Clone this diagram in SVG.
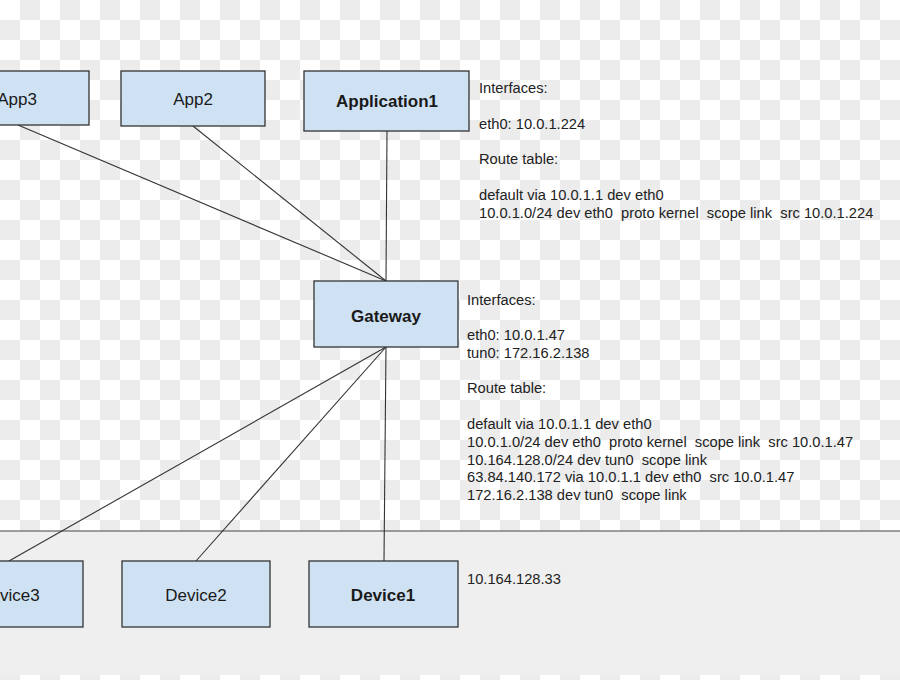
<svg xmlns="http://www.w3.org/2000/svg" xmlns:xlink="http://www.w3.org/1999/xlink" width="900" height="680" viewBox="0 0 900 680">
<defs>
<path id="rows" fill="#ececec" d="M20 0h20v20h-20zm40 0h20v20h-20zm40 0h20v20h-20zm40 0h20v20h-20zm40 0h20v20h-20zm40 0h20v20h-20zm40 0h20v20h-20zm40 0h20v20h-20zm40 0h20v20h-20zm40 0h20v20h-20zm40 0h20v20h-20zm40 0h20v20h-20zm40 0h20v20h-20zm40 0h20v20h-20zm40 0h20v20h-20zm40 0h20v20h-20zm40 0h20v20h-20zm40 0h20v20h-20zm40 0h20v20h-20zm40 0h20v20h-20zm40 0h20v20h-20zm40 0h20v20h-20zM0 20h20v20h-20zm40 0h20v20h-20zm40 0h20v20h-20zm40 0h20v20h-20zm40 0h20v20h-20zm40 0h20v20h-20zm40 0h20v20h-20zm40 0h20v20h-20zm40 0h20v20h-20zm40 0h20v20h-20zm40 0h20v20h-20zm40 0h20v20h-20zm40 0h20v20h-20zm40 0h20v20h-20zm40 0h20v20h-20zm40 0h20v20h-20zm40 0h20v20h-20zm40 0h20v20h-20zm40 0h20v20h-20zm40 0h20v20h-20zm40 0h20v20h-20zm40 0h20v20h-20zm40 0h20v20h-20z"/>
</defs>
<style>
.box{fill:#cfe2f3;stroke:#333333;stroke-width:1.3}
.lbl{font-family:"Liberation Sans",Arial,sans-serif;font-size:17px;fill:#1a1a1a;text-anchor:middle}
.b{font-weight:bold}
.note{font-family:"Liberation Sans",Arial,sans-serif;font-size:14.7px;fill:#222222}
.conn line{stroke:#333333;stroke-width:1.1}
</style>
<rect width="900" height="680" fill="#ffffff"/>
<g id="checker">
<use href="#rows" xlink:href="#rows" y="0"/>
<use href="#rows" xlink:href="#rows" y="40"/>
<use href="#rows" xlink:href="#rows" y="80"/>
<use href="#rows" xlink:href="#rows" y="120"/>
<use href="#rows" xlink:href="#rows" y="160"/>
<use href="#rows" xlink:href="#rows" y="200"/>
<use href="#rows" xlink:href="#rows" y="240"/>
<use href="#rows" xlink:href="#rows" y="280"/>
<use href="#rows" xlink:href="#rows" y="320"/>
<use href="#rows" xlink:href="#rows" y="360"/>
<use href="#rows" xlink:href="#rows" y="400"/>
<use href="#rows" xlink:href="#rows" y="440"/>
<use href="#rows" xlink:href="#rows" y="480"/>
<use href="#rows" xlink:href="#rows" y="520"/>
<use href="#rows" xlink:href="#rows" y="640"/>
</g>
<rect x="0" y="531" width="900" height="144" fill="#efefef"/>
<line x1="0" y1="531" x2="900" y2="531" stroke="#444444" stroke-width="1.2"/>
<g id="connectors" class="conn">
<line x1="18" y1="125" x2="386" y2="281"/>
<line x1="193" y1="126" x2="386" y2="281"/>
<line x1="387" y1="131" x2="386" y2="281"/>
<line x1="386" y1="347" x2="9" y2="561"/>
<line x1="386" y1="347" x2="196" y2="561"/>
<line x1="386" y1="347" x2="384" y2="561"/>
</g>
<g id="app3"><rect class="box" x="-55" y="71" width="144" height="54"/><text class="lbl" x="17" y="105">App3</text></g>
<g id="app2"><rect class="box" x="121" y="71" width="144" height="55"/><text class="lbl" x="193" y="105">App2</text></g>
<g id="application1"><rect class="box" x="304" y="71" width="165" height="60"/><text class="lbl b" x="387" y="107">Application1</text></g>
<g id="gateway"><rect class="box" x="314" y="281" width="144" height="66"/><text class="lbl b" x="386" y="322">Gateway</text></g>
<g id="device3"><rect class="box" x="-65" y="561" width="148" height="66"/><text class="lbl" x="9" y="601">Device3</text></g>
<g id="device2"><rect class="box" x="122" y="561" width="148" height="66"/><text class="lbl" x="196" y="601">Device2</text></g>
<g id="device1"><rect class="box" x="309" y="561" width="149" height="66"/><text class="lbl b" x="383" y="601">Device1</text></g>
<g id="app1-info" class="note">
<text x="479" y="93">Interfaces:</text>
<text x="479" y="129">eth0: 10.0.1.224</text>
<text x="479" y="164">Route table:</text>
<text x="479" y="200">default via 10.0.1.1 dev eth0</text>
<text x="479" y="218">10.0.1.0/24 dev eth0&#160; proto kernel&#160; scope link&#160; src 10.0.1.224</text>
</g>
<g id="gateway-info" class="note">
<text x="467" y="305">Interfaces:</text>
<text x="467" y="340">eth0: 10.0.1.47</text>
<text x="467" y="358">tun0: 172.16.2.138</text>
<text x="467" y="393">Route table:</text>
<text x="467" y="429">default via 10.0.1.1 dev eth0</text>
<text x="467" y="447">10.0.1.0/24 dev eth0&#160; proto kernel&#160; scope link&#160; src 10.0.1.47</text>
<text x="467" y="465">10.164.128.0/24 dev tun0&#160; scope link</text>
<text x="467" y="482">63.84.140.172 via 10.0.1.1 dev eth0&#160; src 10.0.1.47</text>
<text x="467" y="500">172.16.2.138 dev tun0&#160; scope link</text>
</g>
<g id="device1-info" class="note"><text x="467" y="584">10.164.128.33</text></g>
</svg>
